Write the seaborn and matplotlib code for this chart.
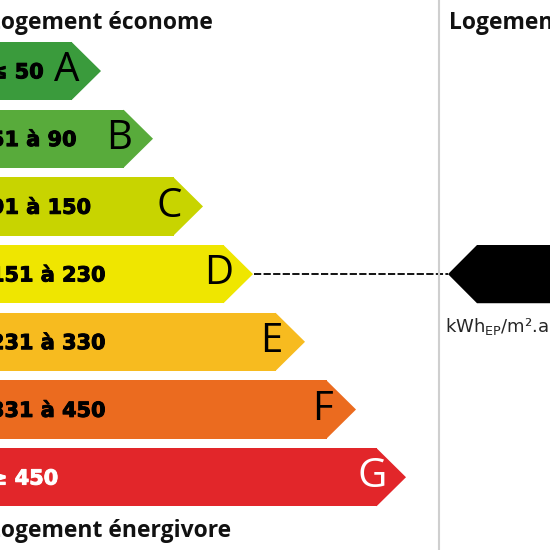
import matplotlib
matplotlib.use("Agg")
import matplotlib.pyplot as plt
import matplotlib.patheffects as pe
import seaborn as sns
import pandas as pd
from matplotlib.patches import Polygon

# Energy label classes (DPE)
classes = ["A", "B", "C", "D", "E", "F", "G"]
ranges = ["≤ 50", "51 à 90", "91 à 150", "151 à 230", "231 à 330", "331 à 450", "≥ 450"]
bar_length = [72, 124, 174, 224, 276, 327, 377]
colors = ["#3a9b3c", "#58ab3b", "#c8d400", "#efe600", "#f7bb1f", "#eb6b1f", "#e2262a"]
text_colors = ["black"] * 6 + ["white"]
current_class = "D"
top_label = "Logement économe"
bottom_label = "Logement énergivore"
unit_label = "kWh$_{\\mathregular{EP}}$/m².a"

df = pd.DataFrame({"classe": classes, "longueur": bar_length})

sns.set_style("white")
plt.rcParams["font.family"] = ["Open Sans", "DejaVu Sans"]

fig = plt.figure(figsize=(5.5, 5.5), dpi=100)
ax = fig.add_axes([0, 0, 1, 1])

half = 0.43
sns.barplot(data=df, x="longueur", y="classe", hue="classe", palette=colors,
            legend=False, orient="h", width=2 * half, saturation=1,
            linewidth=0, ax=ax)

# pointed tips of the arrows
for i, (end, col) in enumerate(zip(bar_length, colors)):
    tip = end + 29
    ax.add_patch(Polygon([(end - 0.5, i - half), (tip, i), (end - 0.5, i + half)],
                         closed=True, facecolor=col, edgecolor="none"))
    ax.text(end - 5, i, classes[i], ha="center", va="center", fontsize=29,
            color=text_colors[i])
    ax.text(-10, i + 0.02, ranges[i], ha="left", va="center", fontsize=15,
            family="DejaVu Sans", fontweight="bold", color=text_colors[i],
            path_effects=[pe.withStroke(linewidth=0.7, foreground=text_colors[i])])

# current rating marker on the right
ci = classes.index(current_class)
tip_d = bar_length[ci] + 29
ax.hlines(ci, tip_d + 1, 448, colors="black", linewidth=1.3,
          linestyles=(0, (4, 1.3)))
ax.add_patch(Polygon([(448, ci), (477, ci - half), (560, ci - half),
                      (560, ci + half), (477, ci + half)],
                     closed=True, facecolor="black", edgecolor="none"))

ax.axvline(439, color="#cfcfcf", linewidth=1.5)

head = dict(ha="left", va="center", fontsize=16.5, fontweight="bold", color="#111111")
ax.text(-12, -0.71, top_label, **head)
ax.text(-12, 6.79, bottom_label, **head)
ax.text(449, -0.71, top_label, **head)
ax.text(445, ci + 0.77, unit_label, ha="left", va="center", fontsize=13,
        family="DejaVu Sans")

ax.set_xlim(0, 550)
ax.set_ylim(7.075, -1.049)
ax.axis("off")

fig.savefig("out.png", dpi=100)
